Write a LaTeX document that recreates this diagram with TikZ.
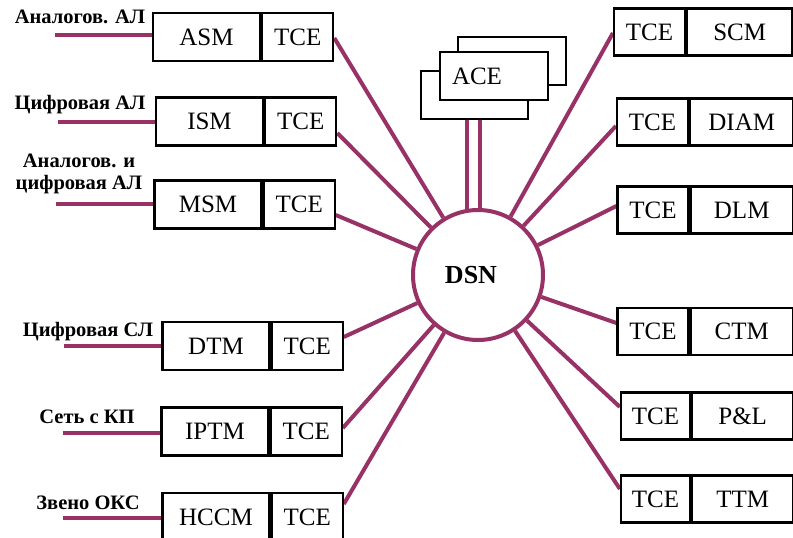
\documentclass[tikz,border=0pt]{standalone}
\usepackage{fontspec}
\setmainfont{Liberation Serif}
\usetikzlibrary{backgrounds}
\definecolor{conncol}{RGB}{152,50,102}
\begin{document}
\begin{tikzpicture}[x=1pt,y=-1pt,
  box/.style={draw=black, line width=2.2pt, fill=white, inner sep=0pt, minimum height=48pt, font=\fontsize{25}{28}\selectfont},
  mainbox/.style={box, minimum width=107pt},
  tcebox/.style={box, minimum width=71pt},
  rbox/.style={minimum height=47pt},
  conn/.style={draw=conncol, line width=4pt},
  lbl/.style={font=\fontsize{20.5}{22}\selectfont\bfseries, align=center, inner sep=0pt}]
\useasboundingbox (0,0) rectangle (793,538);

% central switch
\node[circle, draw=conncol, line width=4pt, fill=white, minimum size=130pt, inner sep=0pt,
      font=\fontsize{26}{28}\selectfont\bfseries] (dsn) at (478,275) {DSN\kern 14pt};

% left modules
\node[mainbox] (asm) at (206.5,37) {ASM};
\node[tcebox, anchor=west] (t1) at (asm.east) {TCE};
\node[mainbox] (ism) at (209.5,121.5) {ISM};
\node[tcebox, anchor=west] (t2) at (ism.east) {TCE};
\node[mainbox] (msm) at (208,204.5) {MSM};
\node[tcebox, anchor=west] (t3) at (msm.east) {TCE};
\node[mainbox] (dtm) at (216,346) {DTM};
\node[tcebox, anchor=west] (t4) at (dtm.east) {TCE};
\node[mainbox] (iptm) at (215,431.5) {IPTM};
\node[tcebox, anchor=west] (t5) at (iptm.east) {TCE};
\node[mainbox] (hccm) at (216,517) {HCCM};
\node[tcebox, anchor=west] (t6) at (hccm.east) {TCE};

% right modules
\node[tcebox, rbox] (r1) at (649.5,32) {TCE};
\node[mainbox, rbox, anchor=west, minimum width=105pt] (scm) at (r1.east) {SCM};
\node[tcebox, rbox] (r2) at (652.5,122) {TCE};
\node[mainbox, rbox, anchor=west, minimum width=103pt] (diam) at (r2.east) {DIAM};
\node[tcebox, rbox] (r3) at (653,210) {TCE};
\node[mainbox, rbox, anchor=west, minimum width=102pt] (dlm) at (r3.east) {DLM};
\node[tcebox, rbox] (r4) at (653,331.5) {TCE};
\node[mainbox, rbox, anchor=west, minimum width=102pt] (ctm) at (r4.east) {CTM};
\node[tcebox, rbox, minimum width=69pt] (r5) at (655.5,416) {TCE};
\node[mainbox, rbox, anchor=west, minimum width=101pt] (pl) at (r5.east) {P\&L};
\node[tcebox, rbox, minimum width=69pt] (r6) at (655.5,499) {TCE};
\node[mainbox, rbox, anchor=west, minimum width=101pt] (ttm) at (r6.east) {TTM};

% ACE stack
\node[box, minimum width=108pt] (ace3) at (512,61) {};
\node[box, minimum width=107pt] (ace2) at (474.5,95) {};
\node[box, text width=84pt, inner xsep=12pt, align=left] (ace) at (494,76) {ACE};

% labels
\node[lbl] (l1) at (80,17) {Аналогов. АЛ};
\node[lbl] (l2) at (80,105) {Цифровая АЛ};
\node[lbl] (l3) at (79,174) {Аналогов. и\\цифровая АЛ};
\node[lbl] (l4) at (88,332) {Цифровая СЛ};
\node[lbl] (l5) at (87,417) {Сеть с КП};
\node[lbl] (l6) at (88,503) {Звено ОКС};

% feed lines
\draw[conn] ([yshift=2pt]asm.west) -- ++(-97,0);
\draw[conn] (ism.west) -- ++(-97,0);
\draw[conn] ([yshift=1pt]msm.west) -- ++(-97,0);
\draw[conn] (dtm.west) -- ++(-97,0);
\draw[conn] ([yshift=-1pt]iptm.west) -- ++(-97,0);
\draw[conn] ([yshift=-1pt]hccm.west) -- ++(-98,0);

\begin{pgfonlayer}{background}
\draw[conn] ([yshift=-1pt]t1.east) -- (dsn);
\draw[conn] ([yshift=-11.5pt]t2.east) -- (dsn);
\draw[conn] ([yshift=-10.5pt]t3.east) -- (dsn);
\draw[conn] ([yshift=9pt]t4.east) -- (dsn);
\draw[conn] ([yshift=3.5pt]t5.east) -- (dsn);
\draw[conn] ([yshift=13pt]t6.east) -- (dsn);
\draw[conn] ([yshift=-1pt]r1.west) -- (dsn);
\draw[conn] ([yshift=-4pt]r2.west) -- (dsn);
\draw[conn] ([yshift=4pt]r3.west) -- (dsn);
\draw[conn] ([yshift=8.5pt]r4.west) -- (dsn);
\draw[conn] ([yshift=9pt]r5.west) -- (dsn);
\draw[conn] ([yshift=10pt]r6.west) -- (dsn);
\draw[conn] ([xshift=-7.5pt]ace2.south) -- ++(0,100);
\draw[conn] ([xshift=5.5pt]ace2.south) -- ++(0,100);
\end{pgfonlayer}
\end{tikzpicture}
\end{document}
